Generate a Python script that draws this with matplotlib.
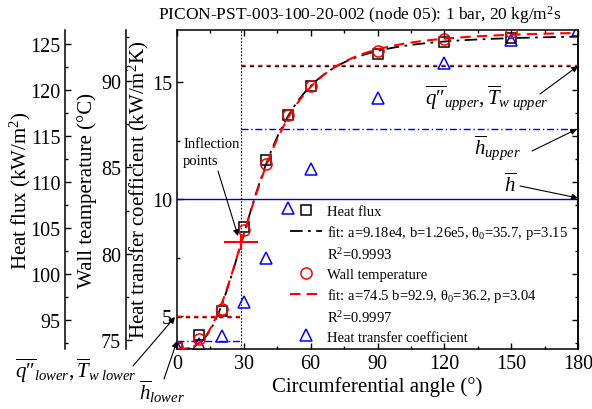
import matplotlib
matplotlib.use('Agg')
import matplotlib.pyplot as plt
from matplotlib.lines import Line2D
import numpy as np

plt.rcParams['font.family'] = ['Liberation Serif', 'DejaVu Serif']
plt.rcParams['mathtext.fontset'] = 'custom'
plt.rcParams['mathtext.rm'] = 'Liberation Serif'
plt.rcParams['mathtext.it'] = 'Liberation Serif:italic'
plt.rcParams['mathtext.bf'] = 'Liberation Serif:bold'

# measured data (node 05)
hf_angle = [0, 10, 20, 30, 40, 50, 60, 90, 120, 150]
heat_flux = [91.9, 93.3, 95.9, 105.1, 112.4, 117.3, 120.4, 123.9, 125.2, 125.7]   # kW/m2
tw_angle = [0, 10, 20, 30, 40, 50, 60, 90, 120, 150]
wall_temp = [74.6, 75.1, 76.8, 81.4, 85.2, 88.0, 89.7, 91.7, 92.4, 92.8]         # C
htc_angle = [0, 10, 20, 30, 40, 50, 60, 90, 120, 150, 180]
htc = [3.7, 3.8, 4.15, 5.6, 7.5, 9.6, 11.3, 14.3, 15.8, 16.8, 17.2]              # kW/m2K

# fit parameters a, b, theta0, p
hf_fit = [91.8, 126.0, 35.7, 3.15]
tw_fit = [74.5, 92.9, 36.2, 3.04]

# region averages
q_lower, q_upper = 95.3, 122.6
tw_lower, tw_upper = 76.4, 90.9
h_lower, h_upper, h_mean = 3.94, 13.0, 10.0

W, H = 592, 410


def fp(x, y):
    return (x / W, 1 - y / H)


def hill(theta, a, b, t0, p):
    return a + (b - a) * theta ** p / (t0 ** p + theta ** p)


fig = plt.figure(figsize=(W / 100, H / 100), dpi=100)
ax = fig.add_axes([177 / W, 1 - 350 / H, 401 / W, 319.3 / H])
axq = ax.twinx()
axt = ax.twinx()

TICK = 14.5
LAB = 15

# main axis: heat transfer coefficient
ax.set_xticks(np.arange(0, 181, 30))
ax.set_xticks(np.arange(0, 181, 15), minor=True)
ax.set_yticks([5, 10, 15])
ax.set_yticks(np.arange(5, 17.5, 2.5), minor=True)
ax.set_xlim(0, 180)
ax.set_ylim(3.6, 17.23)
ax.tick_params(which='both', direction='in', top=True, right=False, labelsize=TICK, width=1)
ax.tick_params(which='major', length=4.5)
ax.tick_params(which='minor', length=2.5)
ax.set_xlabel('Circumferential angle (°)', fontsize=LAB, labelpad=2)
ax.set_ylabel('Heat transfer coefficient (kW/m$^2$K)', fontsize=LAB)
ax.yaxis.set_label_coords(-0.064, 0.5)

# heat flux axis, outer left + mirrored ticks on right
axq.spines['left'].set_position(('axes', -0.279))
axq.yaxis.set_ticks_position('both')
axq.yaxis.set_label_position('left')
axq.set_yticks(np.arange(95, 126, 5))
axq.set_yticks(np.arange(92.5, 126.6, 2.5), minor=True)
axq.set_ylim(91.8, 126.55)
axq.tick_params(which='both', direction='in', labelleft=True, labelright=False,
                labelsize=TICK, width=1)
axq.tick_params(which='major', length=4.5)
axq.tick_params(which='minor', length=2.5)
axq.spines['top'].set_visible(False)
axq.spines['bottom'].set_visible(False)
axq.set_ylabel('Heat flux (kW/m$^2$)', fontsize=LAB)
axq.yaxis.set_label_coords(-0.36, 0.5)

# wall temperature axis, inner left
axt.spines['left'].set_position(('axes', -0.127))
axt.yaxis.set_ticks_position('left')
axt.yaxis.set_label_position('left')
axt.set_yticks([75, 80, 85, 90])
axt.set_yticks(np.arange(75, 93, 2.5), minor=True)
axt.set_ylim(74.5, 92.95)
axt.tick_params(which='both', direction='in', labelsize=TICK, width=1)
axt.tick_params(which='major', length=4.5)
axt.tick_params(which='minor', length=2.5)
for s in ['top', 'bottom', 'right']:
    axt.spines[s].set_visible(False)
axt.set_ylabel('Wall teamperature (°C)', fontsize=LAB)
axt.yaxis.set_label_coords(-0.2, 0.5)

for a in (ax, axq, axt):
    for s in a.spines.values():
        s.set_linewidth(1.1)

# inflection of the temperature fit
a_, b_, t0_, p_ = tw_fit
th_inf = t0_ * ((p_ - 1) / (p_ + 1)) ** (1 / p_)
tw_inf = hill(th_inf, *tw_fit)

theta = np.linspace(0, 180, 600)

# heat transfer coefficient
ax.axhline(h_mean, color='#0000cc', lw=1.0)
ax.plot([0, th_inf], [h_lower, h_lower], color='#0000ee', lw=1.0, dashes=(5, 2, 1, 2))
ax.plot([th_inf, 180], [h_upper, h_upper], color='#0000ee', lw=1.0, dashes=(5, 2, 1, 2))
ax.axvline(th_inf, color='k', lw=0.8, ls=(0, (1.5, 1.5)))
ax.plot(htc_angle, htc, ls='none', marker='^', ms=9, mfc='none', mec='#0000ff', mew=1.1)

# heat flux
axq.plot([0, th_inf], [q_lower, q_lower], color='k', lw=1.0, dashes=(3, 3))
axq.plot([th_inf, 180], [q_upper, q_upper], color='k', lw=1.0, dashes=(3, 3))
axq.plot(theta, hill(theta, *hf_fit), color='k', lw=1.3, dashes=(7, 3, 1.5, 3))
axq.plot(hf_angle, heat_flux, ls='none', marker='s', ms=6.5, mfc='none', mec='k', mew=1.1)

# wall temperature
axt.plot([0, th_inf], [tw_lower, tw_lower], color='r', lw=1.0, dashes=(3, 3))
axt.plot([th_inf, 180], [tw_upper, tw_upper], color='r', lw=1.0, dashes=(3, 3))
axt.plot(theta, hill(theta, *tw_fit), color='r', lw=1.5, dashes=(5, 3))
axt.plot(tw_angle, wall_temp, ls='none', marker='o', ms=8, mfc='none', mec='r', mew=1.1)
axt.plot([th_inf], [tw_inf], marker='_', ms=25, mew=1.5, color='r')
axt.plot([th_inf], [tw_inf], marker='|', ms=12, mew=1.5, color='r')

# legend
blank = Line2D([], [], ls='none')
handles = [
    Line2D([], [], ls='none', marker='s', ms=6.5, mfc='none', mec='k', mew=1.1),
    Line2D([], [], color='k', lw=1.3, dashes=(7, 3, 1.5, 3)),
    blank,
    Line2D([], [], ls='none', marker='o', ms=8, mfc='none', mec='r', mew=1.1),
    Line2D([], [], color='r', lw=1.5, dashes=(5, 3)),
    blank,
    Line2D([], [], ls='none', marker='^', ms=9, mfc='none', mec='#0000ff', mew=1.1),
]
labels = [
    'Heat flux',
    r'fit: a=9.18e4, b=1.26e5, $\mathrm{\theta_0}$=35.7, p=3.15',
    r'R$^2$=0.9993',
    'Wall temperature',
    r'fit: a=74.5 b=92.9, $\mathrm{\theta_0}$=36.2, p=3.04',
    r'R$^2$=0.9997',
    'Heat transfer coefficient',
]
axt.legend(handles, labels, loc='upper left', bbox_to_anchor=(0.282, 0.452),
           frameon=False, fontsize=10.5, handlelength=2.2, handletextpad=0.3,
           labelspacing=0.36, borderpad=0, borderaxespad=0)

# title and annotations
fig.text(*fp(360, 15), 'PICON-PST-003-100-20-002 (node 05): 1 bar, 20 kg/m$^2$s',
         ha='center', va='center', fontsize=12.5)

fig.text(*fp(183, 153), 'Inflection\npoints', ha='left', va='center', fontsize=10.5,
         linespacing=1.5)

arrow = dict(arrowstyle='-|>', color='k', lw=0.8, mutation_scale=9, shrinkA=0, shrinkB=0)
for tail, head in [((218, 172), (238, 237)),
                   ((133, 367), (175, 318)),
                   ((164, 380), (177, 342)),
                   ((540, 95), (578, 67)),
                   ((532, 152), (577, 130)),
                   ((520, 187), (578, 199))]:
    fig.add_artist(plt.Annotation('', xy=fp(*head), xytext=fp(*tail),
                                  xycoords='figure fraction', textcoords='figure fraction',
                                  arrowprops=arrow))

fig.text(*fp(76, 371), '$\\overline{q\u2033}_{lower}, \\overline{T}_{w\\ lower}$',
         ha='center', va='center', fontsize=15)
fig.text(*fp(162, 392), r'$\overline{h}_{lower}$', ha='center', va='center', fontsize=15)
fig.text(*fp(487, 98), '$\\overline{q\u2033}_{upper}, \\overline{T}_{w\\ upper}$',
         ha='center', va='center', fontsize=15)
fig.text(*fp(497, 148), r'$\overline{h}_{upper}$', ha='center', va='center', fontsize=15)
fig.text(*fp(510, 185), r'$\overline{h}$', ha='center', va='center', fontsize=15)

fig.savefig('out.png', dpi=100)
